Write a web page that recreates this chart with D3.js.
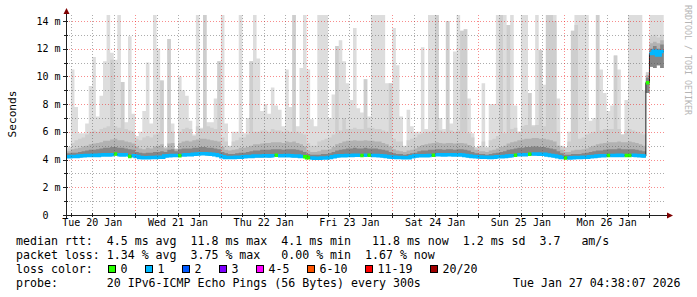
<!DOCTYPE html>
<html>
<head>
<meta charset="utf-8">
<script src="https://cdn.jsdelivr.net/npm/d3@7"></script>
<style>
  body { margin: 0; background: #fff; }
  svg text { font-family: 'DejaVu Sans Mono', monospace; white-space: pre; }
</style>
</head>
<body>
<div id="chart"></div>
<script>
// Hourly buckets, first one starts Tue 20 Jan 04:00 (ms)
const medianRtt = [
  4.20,4.20,4.22,4.22,4.25,4.28,4.30,4.30,4.32,4.30,4.33,4.35,
  4.33,4.35,4.40,4.35,4.33,4.35,4.22,4.28,4.22,4.15,4.13,4.13,
  4.15,4.15,4.17,4.17,4.25,4.28,4.30,4.30,4.28,4.33,4.35,4.35,
  4.38,4.40,4.42,4.42,4.40,4.38,4.35,4.30,4.20,4.15,4.15,4.15,
  4.17,4.17,4.20,4.22,4.22,4.25,4.25,4.25,4.28,4.25,4.28,4.32,
  4.28,4.28,4.30,4.28,4.25,4.25,4.22,4.20,4.13,4.12,4.10,4.10,
  4.12,4.12,4.15,4.20,4.25,4.28,4.28,4.30,4.30,4.32,4.32,4.30,
  4.32,4.32,4.30,4.30,4.28,4.25,4.22,4.18,4.17,4.15,4.15,4.13,
  4.13,4.20,4.25,4.27,4.27,4.28,4.30,4.32,4.35,4.35,4.33,4.35,
  4.35,4.33,4.35,4.33,4.30,4.25,4.22,4.20,4.18,4.17,4.17,4.15,
  4.17,4.20,4.20,4.22,4.25,4.28,4.32,4.35,4.35,4.35,4.38,4.40,
  4.40,4.38,4.38,4.33,4.30,4.25,4.20,4.15,4.12,4.12,4.13,4.15,
  4.15,4.17,4.17,4.20,4.22,4.25,4.27,4.28,4.30,4.30,4.30,4.32,
  4.30,4.30,4.30,4.32,4.30,4.28,4.25,9.55,11.65,11.83,11.55,11.80
]
// lost pings out of 20
const lossCount = [
  1,1,1,1,1,1,1,1,1,1,1,1,
  1,1,0,1,1,1,0,1,1,1,1,1,
  1,1,1,1,1,1,1,1,0,1,1,1,
  1,1,1,1,1,1,1,1,1,1,1,1,
  1,1,1,1,1,1,1,1,1,1,1,0,
  1,1,1,1,1,1,1,0,0,1,1,1,
  1,1,1,1,1,1,1,1,1,1,1,0,
  1,0,1,1,1,1,1,1,1,1,1,1,
  1,1,1,1,1,1,1,0,1,1,1,1,
  1,1,1,1,1,1,1,1,1,1,1,1,
  1,1,1,1,1,1,0,1,1,1,0,1,
  1,1,1,1,1,1,1,1,0,1,1,1,
  1,1,1,1,1,1,1,1,0,1,1,1,
  1,0,0,1,1,1,1,0,1,1,1,1
]
const pingMin = [
  4.12,4.12,4.14,4.14,4.17,4.2,4.22,4.22,4.24,4.22,4.25,4.27,
  4.25,4.27,4.32,4.27,4.25,4.27,4.14,4.2,4.14,4.07,4.05,4.05,
  4.07,4.07,4.09,4.09,4.17,4.2,4.22,4.22,4.2,4.25,4.27,4.27,
  4.3,4.32,4.34,4.34,4.32,4.3,4.27,4.22,4.12,4.07,4.07,4.07,
  4.09,4.09,4.12,4.14,4.14,4.17,4.17,4.17,4.2,4.17,4.2,4.24,
  4.2,4.2,4.22,4.2,4.17,4.17,4.14,4.12,4.05,4.04,4.02,4.02,
  4.04,4.04,4.07,4.12,4.17,4.2,4.2,4.22,4.22,4.24,4.24,4.22,
  4.24,4.24,4.22,4.22,4.2,4.17,4.14,4.1,4.09,4.07,4.07,4.05,
  4.05,4.12,4.17,4.19,4.19,4.2,4.22,4.24,4.27,4.27,4.25,4.27,
  4.27,4.25,4.27,4.25,4.22,4.17,4.14,4.12,4.1,4.09,4.09,4.07,
  4.09,4.12,4.12,4.14,4.17,4.2,4.24,4.27,4.27,4.27,4.3,4.32,
  4.32,4.3,4.3,4.25,4.22,4.17,4.12,4.07,4.04,4.04,4.05,4.07,
  4.07,4.09,4.09,4.12,4.14,4.17,4.19,4.2,4.22,4.22,4.22,4.24,
  4.22,4.22,4.22,4.24,4.22,4.2,4.17,8.8,10.7,10.6,10.8,10.6
]
const ping14 = [
  4.45,4.45,4.5,4.5,4.55,4.6,4.65,4.7,4.7,4.75,4.8,4.85,
  4.85,4.9,4.9,4.85,4.85,4.8,4.75,4.7,4.55,4.5,4.45,4.5,
  4.5,4.55,4.55,4.6,4.55,4.7,4.75,4.6,4.75,4.8,4.8,4.8,
  4.85,4.85,4.9,4.9,4.85,4.85,4.8,4.75,4.55,4.45,4.4,4.4,
  4.45,4.5,4.5,4.55,4.6,4.65,4.65,4.7,4.7,4.7,4.75,4.75,
  4.75,4.7,4.75,4.75,4.75,4.7,4.65,4.55,4.4,4.35,4.35,4.35,
  4.4,4.4,4.45,4.55,4.65,4.7,4.75,4.8,4.8,4.85,4.8,4.8,
  4.85,4.8,4.8,4.8,4.75,4.7,4.65,4.55,4.45,4.4,4.4,4.35,
  4.4,4.45,4.5,4.6,4.65,4.65,4.7,4.7,4.75,4.75,4.7,4.75,
  4.75,4.7,4.75,4.75,4.7,4.65,4.55,4.45,4.4,4.4,4.35,4.4,
  4.45,4.5,4.55,4.6,4.7,4.75,4.8,4.85,4.85,4.9,4.9,4.95,
  4.95,4.9,4.9,4.85,4.8,4.75,4.6,4.45,4.35,4.35,4.4,4.4,
  4.4,4.45,4.5,4.55,4.6,4.65,4.65,4.7,4.75,4.75,4.75,4.8,
  4.75,4.75,4.75,4.75,4.7,4.65,4.6,9.9,12.0,12.2,12.0,12.3
]
const ping17 = [
  4.6,4.6,4.75,4.8,4.85,4.95,5.0,5.1,5.15,5.2,5.25,5.35,
  5.35,5.45,5.5,5.4,5.4,5.3,5.25,5.15,4.95,4.8,4.75,4.85,
  4.8,4.95,5.0,5.1,4.8,5.15,5.2,4.75,5.2,5.3,5.35,5.3,
  5.4,5.45,5.5,5.5,5.45,5.4,5.35,5.3,4.9,4.7,4.65,4.7,
  4.75,4.85,4.85,4.9,5.0,5.1,5.1,5.15,5.2,5.2,5.25,5.25,
  5.25,5.2,5.3,5.25,5.3,5.2,5.1,4.95,4.65,4.55,4.55,4.6,
  4.7,4.7,4.75,4.9,5.1,5.2,5.3,5.35,5.35,5.4,5.35,5.35,
  5.4,5.35,5.35,5.3,5.3,5.2,5.1,4.95,4.75,4.65,4.6,4.55,
  4.65,4.7,4.8,4.95,5.05,5.1,5.15,5.2,5.25,5.2,5.15,5.2,
  5.2,5.15,5.2,5.2,5.15,5.05,4.9,4.7,4.6,4.6,4.55,4.65,
  4.7,4.8,4.9,5.0,5.15,5.25,5.3,5.4,5.45,5.5,5.5,5.55,
  5.55,5.5,5.5,5.45,5.4,5.3,5.0,4.7,4.55,4.55,4.65,4.7,
  4.7,4.75,4.8,4.9,5.0,5.1,5.15,5.2,5.25,5.25,5.25,5.3,
  5.25,5.25,5.3,5.25,5.2,5.1,5.0,10.1,12.4,12.5,12.4,12.6
]
const ping19 = [
  4.75,4.8,5.2,5.4,5.5,5.6,5.8,6.0,6.1,6.0,6.2,6.3,
  6.4,11.2,6.4,6.3,9.6,6.2,6.1,6.0,5.5,5.4,5.6,5.7,
  5.6,5.8,5.9,9.7,4.85,12.7,6.0,4.78,6.0,6.2,6.3,6.2,
  5.7,6.4,6.2,15,6.4,6.3,6.2,11.1,5.6,5.3,4.95,5.3,
  5.4,5.6,5.6,5.8,11.1,6.0,6.0,6.1,6.1,6.0,6.2,6.1,
  6.1,6.0,6.1,6.0,15,6.0,5.9,5.8,5.2,5.0,5.0,5.3,
  5.4,5.5,5.6,5.8,12.2,6.1,7.0,6.2,6.2,6.3,6.2,6.2,
  9.8,6.3,6.3,6.2,6.2,6.1,6.0,9.5,5.5,5.3,5.3,4.95,
  5.4,5.5,5.6,5.8,5.9,6.0,6.0,6.1,15,6.1,6.0,14.0,
  6.1,6.0,6.1,13.3,13.4,5.9,5.6,4.85,4.95,5.3,4.85,5.4,
  5.5,5.7,15,5.9,13.7,6.2,6.3,6.0,6.4,6.5,8.8,6.4,
  6.5,11.9,6.4,15,15,14.0,6.0,4.95,4.85,5.3,13.3,13.7,
  5.5,5.6,5.8,5.9,6.0,15,6.1,6.2,6.2,6.2,11.5,6.2,
  5.8,6.1,6.2,6.1,6.0,5.9,5.8,10.3,12.9,13.0,12.8,13.0
]
const pingMax = [
  4.9,4.9,10.5,7.8,5.9,5.9,6.6,9.3,11.4,7.1,8.6,11.1,
  15,11.7,11.2,15,9.6,6.7,12.9,7.3,5.7,6.0,7.5,11.0,
  6.6,15,12.0,9.7,4.9,12.7,6.6,4.8,10.0,9.0,8.6,6.8,
  5.8,15,6.3,15,6.7,6.7,8.4,11.1,15,6.6,5.0,6.0,
  6.0,15,5.9,7.0,11.1,15,11.3,7.5,8.0,7.3,9.2,7.9,
  7.6,6.4,10.5,7.8,15,6.4,10.6,15,10.5,6.9,6.4,15,
  15,15,7.0,8.7,12.2,12.6,11.1,9.5,8.3,13.5,7.7,7.4,
  9.8,7.1,15,15,15,15,9.5,9.5,13.5,10.8,7.1,5.0,
  7.6,6.4,6.0,6.0,12.1,6.2,15,15,15,7.0,6.2,14.0,
  6.6,11.8,15,13.3,13.4,8.4,5.9,4.9,5.0,9.5,4.9,8.0,
  8.0,15,15,15,13.7,15,7.9,6.0,15,15,8.8,6.5,
  15,11.9,9.4,15,15,15,8.4,5.0,4.9,6.0,13.3,15,
  15,15,15,6.8,7.0,15,10.5,8.8,7.5,7.9,11.5,10.5,
  5.8,8.3,15,15,15,15,9.0,10.3,15,15,15,15
]

const lossLabels = ['0', '1', '2', '3', '4-5', '6-10', '11-19', '20/20']
const lossColors = ['#26ff00', '#00b8ff', '#0059ff', '#7e00ff', '#ff00ff', '#ff5500', '#ff0000', '#a00000']
const yTickValues = [0, 2, 4, 6, 8, 10, 12, 14]
const statLines = [
  'median rtt:  4.5 ms avg  11.8 ms max  4.1 ms min   11.8 ms now  1.2 ms sd  3.7   am/s',
  'packet loss: 1.34 % avg  3.75 % max   0.00 % min  1.67 % now'
]
const probeLine = 'probe:       20 IPv6-ICMP Echo Pings (56 Bytes) every 300s'
const stampLine = 'Tue Jan 27 04:38:07 2026'

// Const variables
const width = 697
const height = 297
const plot = { left: 66, right: 666, top: 15, bottom: 215 }
const hour = 3600 * 1000
const firstBucket = Date.UTC(2026, 0, 20, 4, 0, 0)
const tStart = Date.UTC(2026, 0, 20, 4, 38, 7)
const tEnd = Date.UTC(2026, 0, 27, 4, 38, 7)
const gridMinor = 'rgba(90,90,90,0.5)'
const gridMajor = 'rgba(240,0,0,0.45)'
const arrowColor = '#7f0000'

const lossIndex = n => n === 0 ? 0 : n === 1 ? 1 : n === 2 ? 2 : n === 3 ? 3 :
  n <= 5 ? 4 : n <= 10 ? 5 : n < 20 ? 6 : 7

// Buckets
const buckets = medianRtt.map((m, i) => ({
  t0: firstBucket + i * hour,
  t1: firstBucket + (i + 1) * hour,
  median: m,
  loss: lossCount[i],
  min: pingMin[i], p14: ping14[i], p17: ping17[i], p19: ping19[i], max: pingMax[i]
}))

// Scales
const x = d3.scaleUtc().domain([tStart, tEnd]).range([plot.left, plot.right])
const y = d3.scaleLinear().domain([0, 14.43]).range([plot.bottom, plot.top])
const px = v => Math.round(v) + 0.5

// Create svg element
const svg = d3.select('#chart')
  .append('svg')
    .attr('width', width)
    .attr('height', height)
    .style('display', 'block')

svg.append('rect').attr('width', width).attr('height', height).attr('fill', '#fff')

svg.append('clipPath').attr('id', 'plotclip')
  .append('rect')
    .attr('x', plot.left).attr('y', plot.top)
    .attr('width', plot.right - plot.left).attr('height', plot.bottom - plot.top)

const plotG = svg.append('g').attr('clip-path', 'url(#plotclip)')

// Smoke bands, outer to inner
const smokeBands = [
  { lo: 'min', hi: 'max', color: '#dddddd' },
  { lo: 'min', hi: 'p19', color: '#cecece' },
  { lo: 'min', hi: 'p17', color: '#b2b2b2' },
  { lo: 'min', hi: 'p14', color: '#858585' }
]
smokeBands.forEach(band => {
  const pts = buckets.map(b => ({ t: b.t0, lo: b[band.lo], hi: b[band.hi] }))
  const last = buckets[buckets.length - 1]
  pts.push({ t: last.t1, lo: last[band.lo], hi: last[band.hi] })
  const area = d3.area()
    .curve(d3.curveStepAfter)
    .x(d => x(d.t))
    .y0(d => y(d.lo))
    .y1(d => y(d.hi))
  plotG.append('path')
    .attr('d', area(pts))
    .attr('fill', band.color)
})

// Grid
const gridG = svg.append('g')
  .attr('stroke-width', 1)
  .attr('stroke-dasharray', '1,2')
  .attr('fill', 'none')

const days = d3.utcDay.range(tStart, tEnd)
const sixHours = d3.utcHour.every(6).range(tStart, tEnd).filter(t => t.getUTCHours() !== 0)

gridG.selectAll('.vminor')
  .data(sixHours)
  .enter()
  .append('line')
    .attr('class', 'vminor')
    .attr('x1', d => px(x(d))).attr('x2', d => px(x(d)))
    .attr('y1', plot.top).attr('y2', plot.bottom)
    .attr('stroke', gridMinor)

d3.range(1, 15).filter(v => v % 2 === 1).forEach(v => {
  gridG.append('line')
    .attr('x1', plot.left).attr('x2', plot.right)
    .attr('y1', px(y(v))).attr('y2', px(y(v)))
    .attr('stroke', gridMinor)
})

yTickValues.filter(v => v > 0).forEach(v => {
  gridG.append('line')
    .attr('x1', plot.left).attr('x2', plot.right)
    .attr('y1', px(y(v))).attr('y2', px(y(v)))
    .attr('stroke', gridMajor)
})

gridG.selectAll('.vmajor')
  .data(days)
  .enter()
  .append('line')
    .attr('class', 'vmajor')
    .attr('x1', d => px(x(d))).attr('x2', d => px(x(d)))
    .attr('y1', plot.top).attr('y2', plot.bottom)
    .attr('stroke', gridMajor)

// Median line: thin dark step line, then loss coloured LINE3
const medPts = []
buckets.forEach(b => {
  medPts.push({ t: b.t0, v: b.median, loss: b.loss })
  medPts.push({ t: b.t1, v: b.median, loss: b.loss })
})
plotG.append('path')
  .attr('d', d3.line().x(d => x(d.t)).y(d => y(d.v))(medPts))
  .attr('fill', 'none')
  .attr('stroke', '#202020')
  .attr('stroke-width', 1)

lossColors.forEach((color, ci) => {
  const line = d3.line()
    .defined(d => lossIndex(d.loss) === ci)
    .x(d => x(d.t))
    .y(d => y(d.v))
  plotG.append('path')
    .attr('d', line(medPts))
    .attr('fill', 'none')
    .attr('stroke', color)
    .attr('stroke-width', 3.5)
})

// Axes
const axisG = svg.append('g')
axisG.append('line')
  .attr('x1', plot.left - 3).attr('x2', plot.right + 3)
  .attr('y1', plot.bottom + 0.5).attr('y2', plot.bottom + 0.5)
  .attr('stroke', '#202020')
axisG.append('line')
  .attr('x1', plot.left + 0.5).attr('x2', plot.left + 0.5)
  .attr('y1', plot.bottom + 3).attr('y2', plot.top - 3)
  .attr('stroke', '#202020')
axisG.append('path')
  .attr('d', `M${plot.right + 1},${plot.bottom - 2.5} L${plot.right + 7},${plot.bottom + 0.5} L${plot.right + 1},${plot.bottom + 3.5} Z`)
  .attr('fill', arrowColor)
axisG.append('path')
  .attr('d', `M${plot.left - 2.5},${plot.top - 1} L${plot.left + 0.5},${plot.top - 7} L${plot.left + 3.5},${plot.top - 1} Z`)
  .attr('fill', arrowColor)

// Ticks
d3.range(0, 15).forEach(v => {
  axisG.append('line')
    .attr('x1', plot.left - (v % 2 === 0 ? 3 : 2)).attr('x2', plot.left + 2)
    .attr('y1', px(y(v))).attr('y2', px(y(v)))
    .attr('stroke', '#202020')
})
days.concat(sixHours).forEach(t => {
  axisG.append('line')
    .attr('x1', px(x(t))).attr('x2', px(x(t)))
    .attr('y1', plot.bottom - 2).attr('y2', plot.bottom + (t.getUTCHours() === 0 ? 3 : 2))
    .attr('stroke', '#202020')
})

// Y tick labels
svg.selectAll('.ylabel')
  .data(yTickValues)
  .enter()
  .append('text')
    .attr('class', 'ylabel')
    .attr('x', 60.5)
    .attr('y', d => y(d) + 3.6)
    .attr('text-anchor', 'end')
    .attr('font-size', 10)
    .attr('fill', '#000')
    .text(d => d === 0 ? '0\u00a0\u00a0' : d + ' m')

// X labels at noon
const noons = days.map(d => new Date(+d - 12 * hour)).concat([new Date(+days[days.length - 1] - 12 * hour + 24 * hour)])
  .filter(t => t > tStart && t < tEnd)
svg.selectAll('.xlabel')
  .data(noons)
  .enter()
  .append('text')
    .attr('class', 'xlabel')
    .attr('x', d => x(d))
    .attr('y', 226)
    .attr('text-anchor', 'middle')
    .attr('font-size', 10)
    .attr('fill', '#000')
    .text(d => d3.utcFormat('%a %d %b')(d))

// Vertical label
svg.append('text')
  .attr('transform', 'translate(15.5,114) rotate(-90)')
  .attr('text-anchor', 'middle')
  .attr('font-size', 11.2)
  .attr('fill', '#000')
  .text('Seconds')

// Watermark
svg.append('text')
  .attr('transform', 'translate(685,5) rotate(90)')
  .attr('font-size', 8.3)
  .attr('fill', '#b5b5b5')
  .text('RRDTOOL / TOBI OETIKER')

// Legend
const legendFont = 11.6
const charW = 7
statLines.forEach((s, i) => {
  svg.append('text')
    .attr('x', 16).attr('y', 245 + i * 14)
    .attr('font-size', legendFont)
    .attr('xml:space', 'preserve')
    .text(s)
})
svg.append('text')
  .attr('x', 16).attr('y', 273)
  .attr('font-size', legendFont)
  .text('loss color:')

let lx = 108
lossLabels.forEach((label, i) => {
  svg.append('rect')
    .attr('x', lx + 0.5).attr('y', 265.5)
    .attr('width', 7).attr('height', 7)
    .attr('fill', lossColors[i])
    .attr('stroke', '#000')
  svg.append('text')
    .attr('x', lx + 12.5).attr('y', 273)
    .attr('font-size', legendFont)
    .text(label)
  lx += 30 + charW * label.length
})

svg.append('text')
  .attr('x', 16).attr('y', 287)
  .attr('font-size', legendFont)
  .attr('xml:space', 'preserve')
  .text(probeLine)
svg.append('text')
  .attr('x', 16 + 71 * charW).attr('y', 287)
  .attr('font-size', legendFont)
  .text(stampLine)
</script>
</body>
</html>
